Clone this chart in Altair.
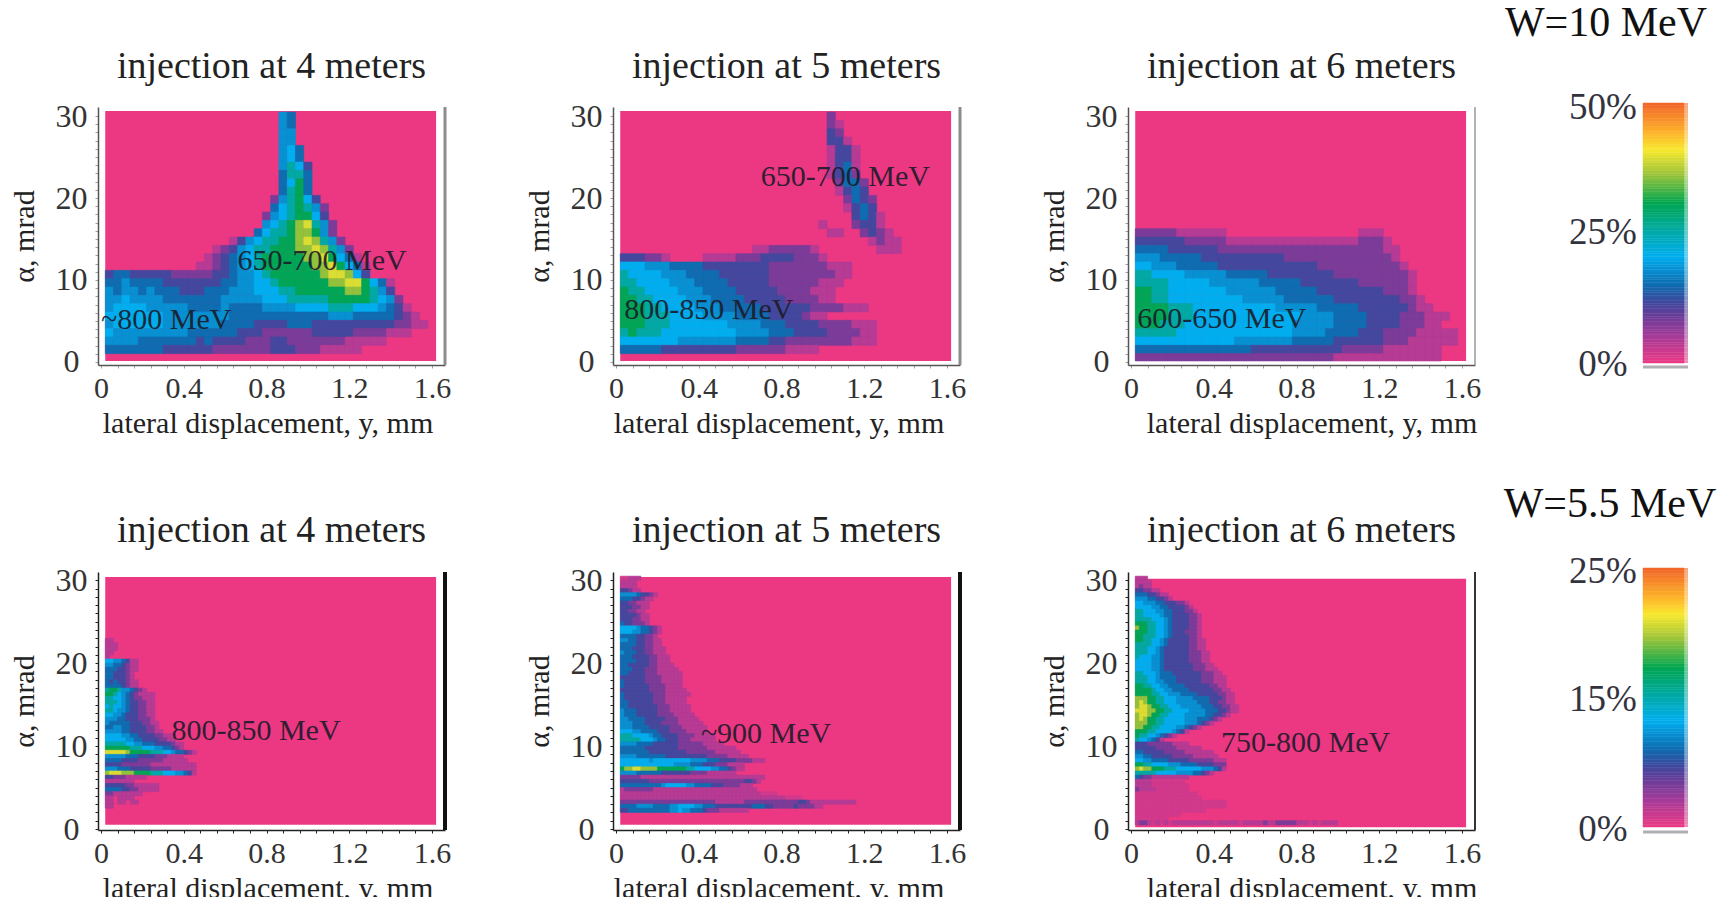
import altair as alt
import pandas as pd

FONT = "Liberation Serif"
COLOR_STOPS = [0, 11, 18, 24, 30, 41, 52, 61.5, 73, 82, 88, 100]
COLOR_RANGE = ["#ec3a85", "#a13b99", "#6a3d98", "#3b4a9f", "#0f6cb0", "#00aeef",
               "#00a99d", "#00a651", "#a0c53a", "#f7e92e", "#fdb82a", "#f26529"]
LEVELS = {".": 4, "1": 8, "2": 16, "3": 23, "4": 30, "5": 36, "6": 41, "7": 51, "8": 61, "9": 72, "a": 79}

T1 = [
 (29,21,"54"),(28,21,"54"),(27,21,"55"),(26,21,"55"),(25,21,"564"),(24,21,"564"),(23,21,"5763"),
 (22,21,"4774"),(21,21,"4684"),(20,21,"4784"),(19,20,"257863"),(18,20,"4678752"),
 (17,19,"25678863"),(16,19,"56789a752"),(15,18,"46778998 52".replace(" ","")),
 (14,15,"135677889a9752"),(13,13,"123567788899a9752"),
 (12,12,"12345678888899a8641"),(11,11,"1123456788888899a8641"),
 (10,0,"344333332222"+"233455"+"678888"+"889aa9"+"63"),
 (9,0,"445444433333"+"334455"+"667888"+"88899a"+"a8641"),
 (8,0,"545545444333"+"444555"+"666778"+"888889"+"98753"),
 (7,0,"556555544444"+"445555"+"566677"+"777888"+"887652"),
 (6,0,"566665555544"+"445444"+"455556"+"666777"+"6665431"),
 (5,0,"666666655555"+"555444"+"444444"+"444555"+"44444321"),
 (4,0,"566666655555"+"554444"+"333344"+"433333"+"333332211"),
 (3,0,"655555555544"+"444433"+"322222"+"233333"+"2222111"),
 (2,0,"555544444443"+"433332"+"223322"+"222221"+"1111"),
 (1,0,"444444433333"+"322222"+"223332"+"221111"+"1"),
]
T2 = [
 (29,25,"2"),(28,25,"21"),(27,25,"32"),(26,25,"331"),(25,25,"1331"),(24,25,"1331"),(23,25,"1341"),
 (22,25,"1342"),(21,26,"2442"),(20,26,"1343"),(19,27,"2432"),(18,27,"1343"),(17,28,"3431"),
 (16,28,"2331"),(15,29,"2321"),(14,30,"1211"),(13,31,"111"),(16,24,"1"),(15,25,"11"),
 (13,16,"11222221"),
 (12,0,"33322"+"1000011"+"1122"+"2333322"+"21"),
 (11,0,"6665554444"+"3333333322"+"22222111"),
 (10,0,"7666655544"+"4433333322"+"22222211"),
 (9,0,"7766665554"+"4443333322"+"2222111"),
 (8,0,"8776666555"+"4444333332"+"222111"),
 (7,0,"8877666655"+"5444433333"+"222211"),
 (6,0,"8887766665"+"5544444333"+"3332222111"),
 (5,0,"8887776666"+"5555444433"+"33211"),
 (4,0,"8887776666"+"6665555444"+"33332222111"),
 (3,0,"7877766666"+"6666555544"+"43333222211"),
 (2,0,"6666666555"+"5555444433"+"22222222111"),
 (1,0,"4444433333"+"3333222222"+"1111"),
]
T3 = [
 (15,0,"22222111111"),(15,27,"111"),
 (14,0,"3333332222211"+"11111111111111"+"2221"),
 (13,0,"4444333333222"+"22222222222222"+"22211"),
 (12,0,"5554444433"+"3333333322"+"2222222222"+"21"),
 (11,0,"6655544444"+"3333333333"+"3322222222"+"221"),
 (10,0,"7766665555"+"5444443333"+"3333222222"+"2221"),
 (9,0,"7777666665"+"5555544444"+"3333333222"+"2221"),
 (8,0,"8877666666"+"6555555444"+"4433333333"+"2221"),
 (7,0,"8877666666"+"6665555544"+"4444333333"+"33221"),
 (6,0,"8888777666"+"6666666555"+"5544444333"+"333211"),
 (5,0,"8888777666"+"6666666666"+"5555444433"+"33222111"),
 (4,0,"8887776666"+"6666666665"+"5555444433"+"3322211"),
 (3,0,"7777766666"+"6666666665"+"5554444333"+"222211111"),
 (2,0,"6666666666"+"6655555554"+"4444333333"+"222111111"),
 (1,0,"4444444444"+"4444333333"+"3333322222"+"1111111"),
 (0,0,"2222222222"+"2222222222"+"2222111111"+"1111111"),
]
B1 = [
 (22.5,"11"),(22,"111"),(21.5,"111"),(21,"11"),(20.5,"1"),(20,"66554311"),(19.5,"55443211"),
 (19,"44433211"),(18.5,"4433321"),(18,"4433321"),(17.5,"43433211"),(17,"44443211"),
 (16.5,"7887554321"),(16,"887654321111"),(15.5,"776654322111"),(15,"777654332211"),
 (14.5,"676654332211"),(14,"776554332211"),(13.5,"665543332211"),(13,"555443332221"),
 (12.5,"5444443332211"),(12,"4455443333221"),(11.5,"55554433332211"),(11,"6666554433332211"),
 (10.5,"66666554433332211"),(10,"7777766554443333211"),(9.5,"8888887776665544321"),
 (9,"aaaaa98888877766544321"),(8.5,"5555544433332221111"),(8,"44443333222222111111"),
 (7.5,"3333222222211111111111"),(7,"5554443333322222111111"),(6.5,"9aaa999888877766655431"),
 (6,"3322211111"),(5.5,"1111111"),(5,"3333322111111"),(4.5,"4444332211111"),(4,"221111111"),
 (3.5,"1101111"),(3,"11011011"),(2.5,"11"),
]
B2 = [
 (30,"..111"),(29.5,"1111"),(29,"1111"),(28.5,"33211"),(28,"555543321"),(27.5,"44433211"),
 (27,"3322111"),(26.5,"3332211"),(26,"332211"),(25.5,"3333211"),(25,"3332211"),(24.5,"4332221"),
 (24,"6666544321"),(23.5,"6665544321"),(23,"444433221"),(22.5,"5544332211"),(22,"4444332211"),
 (21.5,"44433322111"),(21,"54443322111"),(20.5,"444333322111"),(20,"444433322111"),
 (19.5,"4433333221111"),(19,"44433322211111"),(18.5,"443333222111111"),(18,"333333222211111"),
 (17.5,"433333222211111"),(17,"433333322221111"),(16.5,"3333333222211111"),(16,"43333333222111111"),
 (15.5,"4333333322211111"),(15,"4433333322211111"),(14.5,"44333333322211111"),(14,"54443333322211111"),
 (13.5,"544433333222211111"),(13,"5544443333322211111"),(12.5,"55544433332222111111"),
 (12,"555444433333222111111"),(11.5,"666554444333222211111"),(11,"77766665443333222211111"),
 (10.5,"77777666544333222111111"),(10,"5555444433333322222211111"),
 (9.5,"4444443333333322222221111111"),(9,"44444443333333332222222111111"),
 (8.5,"5555444444433333333332222211111"),
 (8,"6666666566"+"6666666555"+"5444333322"+"22111"),
 (7.5,"6666666666"+"6665555444"+"3332221111"),
 (7,"899aa99998"+"8888887766"+"6655443211"),
 (6.5,"5555444444"+"3333333222"+"21111111"),
 (6,"2222211111"+"1111111111"+"1111111111"+"11111"),
 (5.5,"3333333222"+"2222222222"+"2222222222"+"3321"),
 (5,"4444444444"+"5666665544"+"4433322221"+"11"),
 (4.5,"1222222211"+"1111111111"+"1111111111"+"111"),
 (4,"1111111111"+"1111111111"+"1111111111"+"1111"+"...."),
 (3.5,"1111111111"+"1111111111"+"1111111111"+"1111111111"+"...."),
 (3,"2222222222"+"2222222222"+"2221111111"+"2222222222"+"2223321111"+"1111111"),
 (2.5,"4444555544"+"4455666655"+"4443333333"+"3344433222"+"223222211"),
 (2,"3344444444"+"4455655444"+"3222111111"+"1"),
]
B3 = [
 (30,"111"),(29.5,"1111"),(29,"1211"),(28.5,"332211"),(28,"44433211"),(27.5,"555443321"),
 (27,"6655544333221"),(26.5,"66665544333321"),(26,"776665544333221"),(25.5,"7766665443333221"),
 (25,"7777666543333221"),(24.5,"8887766543333221"),(24,"9887766543333221"),(23.5,"8887766543332221"),
 (23,"8877766543333221"),(22.5,"88776654333332211"),(22,"77776654333332211"),(21.5,"77766543333332211"),
 (21,"777665433333322211"),(20.5,"766655433333322211"),(20,"666655433333322211"),
 (19.5,"6666554333333322211"),(19,"66665543333333222111"),(18.5,"776665444333333322211"),
 (18,"7776654444333333222111"),(17.5,"7776655444333333222111"),(17,"8877665544443333332211"),
 (16.5,"88887665544443333332211"),(16,"888877665554444333332211"),(15.5,"9998877666555544443332 11".replace(" ","")),
 (15,"9a9887766655555444332211"),(14.5,"9aa98877666555554443322 11".replace(" ","")),(14,"aaa9988776666555544433211"),
 (13.5,"9aa98877666655555443321"),(13,"9a9887766666555444321"),(12.5,"9998877666665554321"),
 (12,"9988776666554321"),(11.5,"8887766665431"),(11,"8776654321"),(10.5,"7665431"),
 (10,"3332222221111"),(9.5,"3333322222111111"),(9,"4433333222221111111"),(8.5,"55443333322222111111"),
 (8,"6655444433333222222111"),(7.5,"8877666655544443333222"),(7,"9a99888777666666555431"),
 (6.5,"7777766666555544321"),(6,"4322111111111"),(5.5,"1111........"),(5,"1111........."),
 (4.5,"21111........"),(4,"..............."),(3.5,"................"),(3,"......................"),
 (2.5,"......................"),(2,"................."),(1.5,"..........."),(1,"........"),
 (0.5,"1221.1.1.1111111111.11111.1111121122222111.1.1111"),
]

X_VALUES = [round(i * 0.08, 2) for i in range(21)]
Y_VALUES = list(range(0, 31))


def top_cells(rows, step=1.016, dx=0.04):
    out = []
    for lo, start, levels in rows:
        for k, c in enumerate(levels):
            if c in LEVELS:
                x0 = 0.02 + dx * (start + k)
                out.append(dict(x0=x0, x1=x0 + dx, y0=max(lo * step, 0.12), y1=(lo + 1) * step, v=LEVELS[c]))
    return pd.DataFrame(out)


def bottom_cells(rows, dy=0.5, dx=0.02):
    out = []
    for lo, levels in rows:
        for k, c in enumerate(levels):
            if c in LEVELS:
                x0 = 0.02 + dx * k
                out.append(dict(x0=x0, x1=x0 + dx, y0=lo, y1=lo + dy, v=LEVELS[c]))
    return pd.DataFrame(out)


color_scale = alt.Scale(domain=COLOR_STOPS, range=COLOR_RANGE, interpolate="rgb")
LABEL_EXPR = "indexof([0,0.4,0.8,1.2,1.6], datum.value) >= 0 ? (datum.value == 0 ? '0' : format(datum.value, '.1f')) : ''"
YLABEL_EXPR = "datum.value % 10 == 0 ? datum.label : ''"
W, H = 347, 258


def panel(cells, title, label, lx, ly, ydom, pink_y, axis_color, tick_color, rule_color, rule_w, title_dx):
    xs = alt.Scale(domain=[-0.015, 1.663], nice=False)
    ys = alt.Scale(domain=ydom, nice=False)
    xa = alt.Axis(values=X_VALUES, labelExpr=LABEL_EXPR, grid=False, tickSize=3, tickColor=tick_color,
                  domainColor=axis_color, domainWidth=1.5, labelFont=FONT, labelFontSize=30, labelColor="#333333",
                  labelPadding=5, labelOverlap=False, labelFlush=False, title="lateral displacement, y, mm",
                  titleFont=FONT, titleFontSize=30, titleFontWeight="normal", titleColor="#222222",
                  titlePadding=5, titleX=W / 2 + title_dx)
    ya = alt.Axis(values=Y_VALUES, labelExpr=YLABEL_EXPR, grid=False, tickSize=3, tickColor=tick_color,
                  domainColor=axis_color, domainWidth=1.5, labelFont=FONT, labelFontSize=32, labelColor="#333333",
                  labelAlign="center", labelPadding=24, labelOverlap=False, labelFlush=False, title="α, mrad",
                  titleFont=FONT, titleFontSize=30, titleFontWeight="normal", titleColor="#222222", titlePadding=16)
    bg = alt.Chart(pd.DataFrame({"a": [0.02], "b": [1.62], "c": [pink_y[0]], "d": [pink_y[1]]})).mark_rect(color="#ec3883").encode(
        x=alt.X("a:Q", scale=xs, axis=xa), x2="b:Q",
        y=alt.Y("c:Q", scale=ys, axis=ya), y2="d:Q")
    rects = alt.Chart(cells).mark_rect(strokeWidth=0.6).encode(
        x=alt.X("x0:Q", scale=xs, axis=xa), x2="x1:Q",
        y=alt.Y("y0:Q", scale=ys, axis=ya), y2="y1:Q",
        color=alt.Color("v:Q", scale=color_scale, legend=None),
        stroke=alt.Stroke("v:Q", scale=color_scale, legend=None))
    rule = alt.Chart(pd.DataFrame({"a": [0]})).mark_rule(color=rule_color, strokeWidth=rule_w).encode(
        x=alt.value(W), y=alt.value(0), y2=alt.value(H))
    texts = alt.Chart(pd.DataFrame({"t": label, "x": lx, "y": ly})).mark_text(
        font=FONT, fontSize=30, align="left", baseline="middle", color="#1c1c2a", opacity=0.9).encode(
        x=alt.X("x:Q", scale=xs, axis=xa), y=alt.Y("y:Q", scale=ys, axis=ya), text="t:N")
    return alt.layer(bg, rects, rule, texts).properties(
        width=W, height=H,
        title=alt.TitleParams(title, font=FONT, fontSize=38, fontWeight="normal", color="#222222", offset=14, anchor="middle"))


def colorbar(heading, head_x, head_y, labels, label_pos, y_range, line_y):
    bar = pd.DataFrame({"l0": [i for i in range(100)], "l1": [i + 1 for i in range(100)], "v": [i + 0.5 for i in range(100)]})
    xs = alt.Scale(domain=[0, 45], nice=False)
    ys = alt.Scale(domain=[0, 100], range=y_range, nice=False)
    main = alt.Chart(bar).mark_rect(strokeWidth=0.5).transform_calculate(x0="0", x1="41").encode(
        x=alt.X("x0:Q", scale=xs, axis=None), x2="x1:Q",
        y=alt.Y("l0:Q", scale=ys, axis=None), y2="l1:Q",
        color=alt.Color("v:Q", scale=color_scale, legend=None),
        stroke=alt.Stroke("v:Q", scale=color_scale, legend=None))
    pale = alt.Chart(bar).mark_rect(opacity=0.6).transform_calculate(x0="41", x1="45").encode(
        x=alt.X("x0:Q", scale=xs, axis=None), x2="x1:Q",
        y=alt.Y("l0:Q", scale=ys, axis=None), y2="l1:Q",
        color=alt.Color("v:Q", scale=color_scale, legend=None))
    line = alt.Chart(pd.DataFrame({"a": [0]})).mark_rule(color="#b0b0b4", strokeWidth=3).encode(
        x=alt.value(0), x2=alt.value(45), y=alt.value(line_y))
    tx = alt.Chart(pd.DataFrame({"t": labels, "p": label_pos})).mark_text(
        font=FONT, fontSize=37, align="center", baseline="middle", color="#333340").encode(
        x=alt.value(-40), y=alt.Y("p:Q", scale=ys, axis=None), text="t:N")
    head = alt.Chart(pd.DataFrame({"t": [heading]})).mark_text(
        font=FONT, fontSize=42, align="center", baseline="middle", color="#111111").encode(
        x=alt.value(head_x), y=alt.value(head_y), text="t:N")
    return alt.layer(main, pale, line, tx, head).properties(width=45, height=H)


TOP_Y = [-0.37, 31.1]
BOT_Y = [-0.12, 31.0]
TG, TT, TR = "#555555", "#a0a0a0", "#8c8c8c"
BG, BT = "#222222", "#222222"

p1 = panel(top_cells(T1), "injection at 4 meters", ["650-700 MeV", "~800 MeV"], [0.66, 0.0], [12.3, 5.1], TOP_Y, [0.12, 30.6], TG, TT, TR, 3, -4)
p2 = panel(top_cells(T2), "injection at 5 meters", ["650-700 MeV", "800-850 MeV"], [0.70, 0.04], [22.6, 6.3], TOP_Y, [0.12, 30.6], TG, TT, TR, 3, -8)
p3 = panel(top_cells(T3), "injection at 6 meters", ["600-650 MeV"], [0.03], [5.2], TOP_Y, [0.12, 30.6], TG, TT, "#9a9a9a", 1.5, 10)
p4 = panel(bottom_cells(B1), "injection at 4 meters", ["800-850 MeV"], [0.34], [11.8], BOT_Y, [0.5, 30.4], BG, BT, "#111111", 4, -4)
p5 = panel(bottom_cells(B2), "injection at 5 meters", ["~900 MeV"], [0.41], [11.5], BOT_Y, [0.5, 30.4], BG, BT, "#111111", 4, -8)
p6 = panel(bottom_cells(B3), "injection at 6 meters", ["750-800 MeV"], [0.435], [10.4], BOT_Y, [0.2, 30.2], BG, BT, "#333333", 2, 10)

cb1 = colorbar("W=10 MeV", -37, -84, ["0%", "25%", "50%"], [-0.8, 50, 98], [256, -4], 260)
cb2 = colorbar("W=5.5 MeV", -33, -68, ["0%", "15%", "25%"], [-1, 49, 98.5], [255, -4], 260)

chart = alt.concat(p1, p2, p3, cb1, p4, p5, p6, cb2, columns=4, bounds="flush",
                   spacing={"column": 168, "row": 207}).properties(
    autosize=alt.AutoSizeParams(type="none"),
    padding={"left": 90, "top": 99, "right": 1620, "bottom": 790}
).configure_view(stroke=None).configure_axis(labelOverlap=False).resolve_scale(color="independent")
chart.save("out.html", embed_options={"renderer": "svg", "actions": False})
